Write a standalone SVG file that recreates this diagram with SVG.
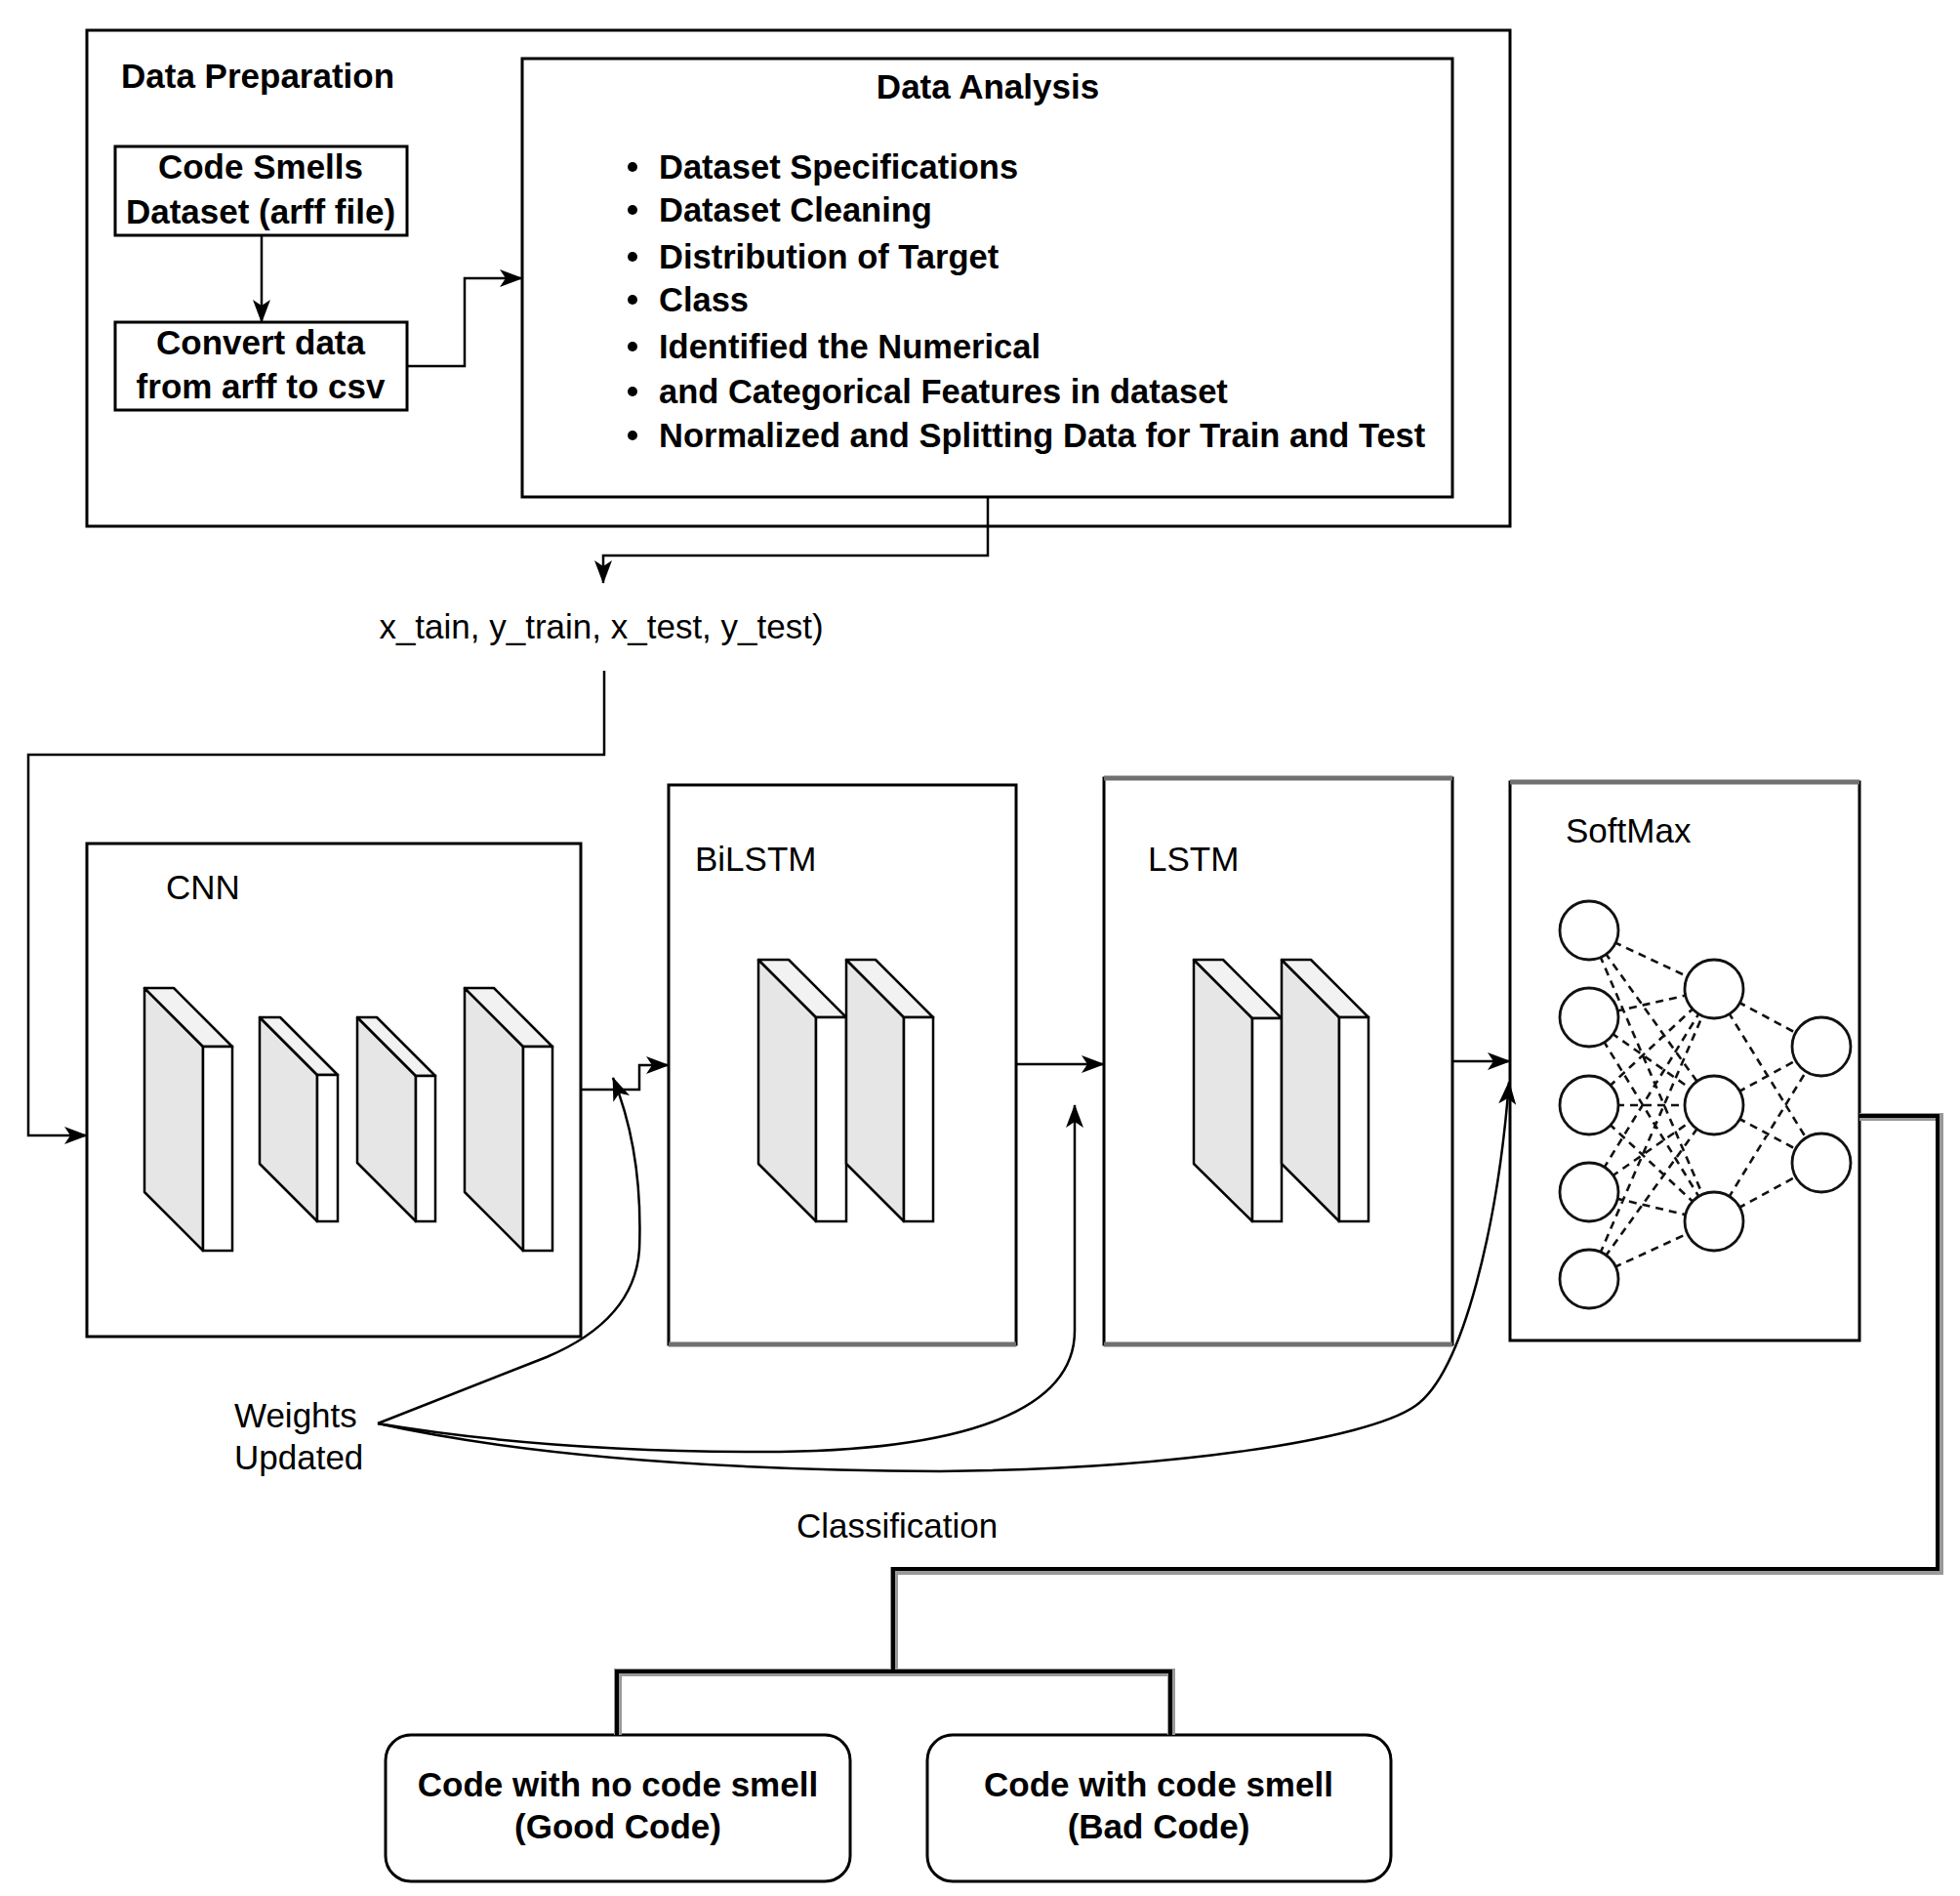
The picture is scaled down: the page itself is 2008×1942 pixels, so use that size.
<svg xmlns="http://www.w3.org/2000/svg" width="2008" height="1942" viewBox="0 0 2008 1942">
<style>
.box{fill:#fff;stroke:#000;stroke-width:3}
.grey{stroke:#707070;stroke-width:5;fill:none}
.bt{font-family:"Liberation Sans",Arial,sans-serif;font-weight:bold;font-size:35px;fill:#000}
.rt{font-family:"Liberation Sans",Arial,sans-serif;font-size:35px;fill:#000}
.c{text-anchor:middle}
.side{fill:#e6e6e6;stroke:#000;stroke-width:2.5;stroke-linejoin:round}
.top{fill:#f2f2f2;stroke:#000;stroke-width:2.5;stroke-linejoin:round}
.front{fill:#fff;stroke:#000;stroke-width:2.5}
.con{fill:none;stroke:#000;stroke-width:2.5}
.arr{marker-end:url(#ah)}
.dash{stroke:#111;stroke-width:2.6;stroke-dasharray:8 6;fill:none}
.neuron{fill:#fff;stroke:#111;stroke-width:2.8}
.thick{fill:none;stroke:#000;stroke-width:4}
.thickshadow{fill:none;stroke:#999;stroke-width:8}
</style>
<defs>
<marker id="ah" viewBox="0 0 24 18" refX="23" refY="9" markerWidth="24" markerHeight="18" markerUnits="userSpaceOnUse" orient="auto">
<path d="M0,0 L24,9 L0,18 L6,9 Z" fill="#000"/>
</marker>
</defs>
<rect width="2008" height="1942" fill="#fff"/>

<g id="data-preparation">
<rect class="box" x="89" y="31" width="1458" height="508"/>
<text class="bt" x="124" y="90">Data Preparation</text>
</g>

<g id="code-smells-dataset">
<rect class="box" x="118" y="150" width="299" height="91"/>
<text class="bt c" x="267" y="183">Code Smells</text>
<text class="bt c" x="267" y="229">Dataset (arff file)</text>
</g>

<g id="convert-data">
<rect class="box" x="118" y="330" width="299" height="90"/>
<text class="bt c" x="267" y="363">Convert data</text>
<text class="bt c" x="267" y="408">from arff to csv</text>
</g>

<g id="data-analysis">
<rect class="box" x="535" y="60" width="953" height="449"/>
<text class="bt c" x="1012" y="101">Data Analysis</text>
<g fill="#000">
<circle cx="648" cy="171" r="5"/>
<circle cx="648" cy="215" r="5"/>
<circle cx="648" cy="263" r="5"/>
<circle cx="648" cy="307" r="5"/>
<circle cx="648" cy="355" r="5"/>
<circle cx="648" cy="401" r="5"/>
<circle cx="648" cy="446" r="5"/>
</g>
<text class="bt" x="675" y="183" style="font-size:34.5px">Dataset Specifications</text>
<text class="bt" x="675" y="227" style="font-size:34.5px">Dataset Cleaning</text>
<text class="bt" x="675" y="275" style="font-size:34.5px">Distribution of Target</text>
<text class="bt" x="675" y="319" style="font-size:34.5px">Class</text>
<text class="bt" x="675" y="367" style="font-size:34.5px">Identified the Numerical</text>
<text class="bt" x="675" y="413" style="font-size:34.5px">and Categorical Features in dataset</text>
<text class="bt" x="675" y="458" style="font-size:34.5px">Normalized and Splitting Data for Train and Test</text>
</g>

<g id="split-label">
<text class="rt c" x="616" y="654">x_tain, y_train, x_test, y_test)</text>
</g>

<g id="cnn">
<rect class="box" x="89" y="864" width="506" height="505"/>
<text class="rt" x="170" y="921">CNN</text>
<polygon class="side" points="148,1012 208,1072 208,1281 148,1221"/>
<polygon class="top" points="148,1012 178,1012 238,1072 208,1072"/>
<rect class="front" x="208" y="1072" width="30" height="209"/>
<polygon class="side" points="266,1042 325,1101 325,1251 266,1192"/>
<polygon class="top" points="266,1042 287,1042 346,1101 325,1101"/>
<rect class="front" x="325" y="1101" width="21" height="150"/>
<polygon class="side" points="366,1042 426,1102 426,1251 366,1191"/>
<polygon class="top" points="366,1042 386,1042 446,1102 426,1102"/>
<rect class="front" x="426" y="1102" width="20" height="149"/>
<polygon class="side" points="476,1012 536,1072 536,1281 476,1221"/>
<polygon class="top" points="476,1012 506,1012 566,1072 536,1072"/>
<rect class="front" x="536" y="1072" width="30" height="209"/>
</g>

<g id="bilstm">
<rect class="box" x="685" y="804" width="356" height="573"/>
<line class="grey" x1="685" y1="1377" x2="1041" y2="1377"/>
<text class="rt" x="712" y="892">BiLSTM</text>
<polygon class="side" points="777,983 836,1042 836,1251 777,1192"/>
<polygon class="top" points="777,983 808,983 867,1042 836,1042"/>
<rect class="front" x="836" y="1042" width="31" height="209"/>
<polygon class="side" points="867,983 926,1042 926,1251 867,1192"/>
<polygon class="top" points="867,983 897,983 956,1042 926,1042"/>
<rect class="front" x="926" y="1042" width="30" height="209"/>
</g>

<g id="lstm">
<rect class="box" x="1131" y="797" width="357" height="580"/>
<line class="grey" x1="1131" y1="797" x2="1488" y2="797"/>
<line class="grey" x1="1131" y1="1377" x2="1488" y2="1377"/>
<text class="rt" x="1176" y="892">LSTM</text>
<polygon class="side" points="1223,983 1283,1043 1283,1251 1223,1192"/>
<polygon class="top" points="1223,983 1253,983 1313,1043 1283,1043"/>
<rect class="front" x="1283" y="1043" width="30" height="208"/>
<polygon class="side" points="1313,983 1372,1042 1372,1251 1313,1192"/>
<polygon class="top" points="1313,983 1343,983 1402,1042 1372,1042"/>
<rect class="front" x="1372" y="1042" width="30" height="209"/>
</g>

<g id="softmax">
<rect class="box" x="1547" y="801" width="358" height="572"/>
<line class="grey" x1="1547" y1="801" x2="1905" y2="801"/>
<text class="rt" x="1604" y="863">SoftMax</text>
<g class="dash">
<path d="M1628,953 L1756,1013 M1628,953 L1756,1132 M1628,953 L1756,1251
M1628,1042 L1756,1013 M1628,1042 L1756,1132 M1628,1042 L1756,1251
M1628,1132 L1756,1013 M1628,1132 L1756,1132 M1628,1132 L1756,1251
M1628,1221 L1756,1013 M1628,1221 L1756,1132 M1628,1221 L1756,1251
M1628,1310 L1756,1013 M1628,1310 L1756,1132 M1628,1310 L1756,1251
M1756,1013 L1866,1072 M1756,1013 L1866,1191
M1756,1132 L1866,1072 M1756,1132 L1866,1191
M1756,1251 L1866,1072 M1756,1251 L1866,1191"/>
</g>
<circle class="neuron" cx="1628" cy="953" r="30"/>
<circle class="neuron" cx="1628" cy="1042" r="30"/>
<circle class="neuron" cx="1628" cy="1132" r="30"/>
<circle class="neuron" cx="1628" cy="1221" r="30"/>
<circle class="neuron" cx="1628" cy="1310" r="30"/>
<circle class="neuron" cx="1756" cy="1013" r="30"/>
<circle class="neuron" cx="1756" cy="1132" r="30"/>
<circle class="neuron" cx="1756" cy="1251" r="30"/>
<circle class="neuron" cx="1866" cy="1072" r="30"/>
<circle class="neuron" cx="1866" cy="1191" r="30"/>
</g>

<g id="weights-updated">
<text class="rt" x="240" y="1462">Weights</text>
<text class="rt" x="240" y="1505">Updated</text>
</g>

<g id="classification-label">
<text class="rt" x="816" y="1575">Classification</text>
</g>

<g id="good-code">
<rect class="box" x="395" y="1777" width="476" height="150" rx="26" ry="26"/>
<text class="bt c" x="633" y="1840">Code with no code smell</text>
<text class="bt c" x="633" y="1883">(Good Code)</text>
</g>

<g id="bad-code">
<rect class="box" x="950" y="1777" width="475" height="150" rx="26" ry="26"/>
<text class="bt c" x="1187" y="1840">Code with code smell</text>
<text class="bt c" x="1187" y="1883">(Bad Code)</text>
</g>

<g id="connectors">
<path class="con arr" d="M268,241 L268,330"/>
<path class="con arr" d="M417,375 L476,375 L476,285 L535,285"/>
<path class="con arr" d="M1012,509 L1012,569 L618,569 L618,597"/>
<path class="con arr" d="M619,687 L619,773 L29,773 L29,1163 L89,1163"/>
<path class="con arr" d="M595,1116 L655,1116 L655,1091 L685,1091"/>
<path class="con arr" d="M1041,1090 L1131,1090"/>
<path class="con arr" d="M1488,1087 L1547,1087"/>
<path class="con arr" d="M387,1458 L560,1390 Q650,1352 655,1280 Q659,1180 628,1104"/>
<path class="con arr" d="M387,1458 Q560,1487 780,1487 C1000,1487 1101,1440 1101,1363 L1101,1132"/>
<path class="con arr" d="M387,1458 Q600,1505 963,1507 C1200,1505 1400,1475 1450,1440 C1500,1405 1535,1250 1546,1108"/>
<path class="thickshadow" d="M1905,1144 L1987,1144 L1987,1609 L916,1609 L916,1713 M633,1777 L633,1713 L1200,1713 L1200,1777"/>
<path class="thick" d="M1905,1143 L1985,1143 L1985,1607 L915,1607 L915,1712 M632,1777 L632,1712 L1199,1712 L1199,1777"/>
</g>
</svg>
